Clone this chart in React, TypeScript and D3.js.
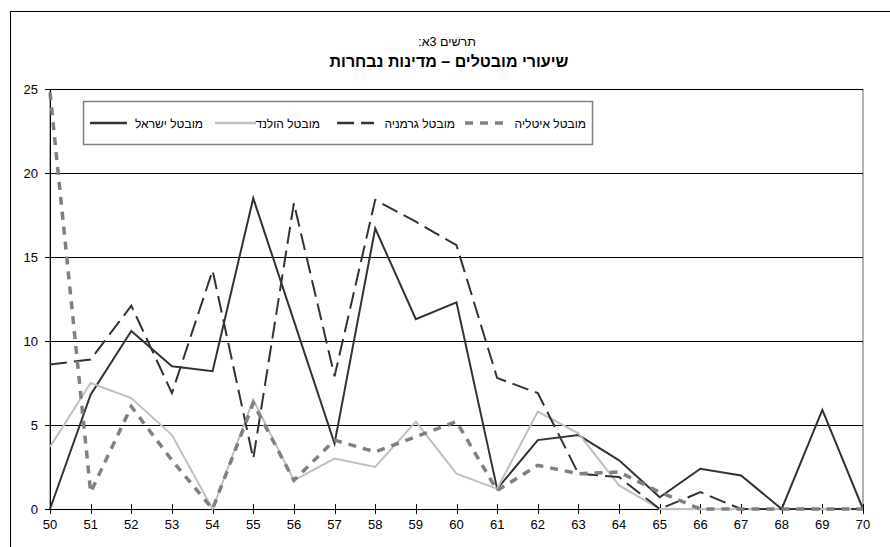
import * as d3 from "d3"

// תרשים 3א – unemployment rates, selected countries
const years = [50, 51, 52, 53, 54, 55, 56, 57, 58, 59, 60, 61, 62, 63, 64, 65, 66, 67, 68, 69, 70]
const israel = [0, 6.8, 10.6, 8.5, 8.2, 18.5, 11.2, 3.9, 16.7, 11.3, 12.3, 1.2, 4.1, 4.4, 2.9, 0.7, 2.4, 2.0, 0, 5.9, 0]
const netherlands = [3.7, 7.5, 6.6, 4.4, 0, 6.5, 1.7, 3.0, 2.5, 5.2, 2.1, 1.2, 5.8, 4.5, 1.4, 0, 0, 0, 0, 0, 0]
const germany = [8.6, 8.9, 12.1, 6.9, 14.2, 3.0, 18.2, 7.9, 18.4, 17.1, 15.7, 7.8, 6.9, 2.1, 1.9, 0, 1.0, 0, 0, 0, 0]
const italy = [24.8, 1.0, 6.1, 2.9, 0, 6.3, 1.7, 4.1, 3.4, 4.3, 5.2, 1.1, 2.6, 2.1, 2.2, 1.0, 0, 0, 0, 0, 0]
const yTicks = [0, 5, 10, 15, 20, 25]

const seriesNames = ["מובטל ישראל", "מובטל הולנד", "מובטל גרמניה", "מובטל איטליה"]
const titleLine1 = "תרשים 3א:"
const titleLine2 = "שיעורי מובטלים – מדינות נבחרות"

const FONT = "'Liberation Sans', Arial, 'DejaVu Sans', sans-serif"

const W = 890
const H = 547
const plot = { left: 50, right: 863, top: 89, bottom: 509 }

export default function App() {
  const x = d3.scaleLinear().domain([50, 70]).range([plot.left, plot.right])
  const y = d3.scaleLinear().domain([0, 25]).range([plot.bottom, plot.top])

  const line = d3
    .line<number>()
    .x((_, i) => x(years[i]))
    .y((d) => y(d))

  // legend: swatch span, text ends at tx
  const series = [
    { name: seriesNames[0], values: israel, color: "#333333", width: 2, dash: "none", sw: [90, 127], tx: 203 },
    { name: seriesNames[1], values: netherlands, color: "#c0c0c0", width: 2, dash: "none", sw: [215, 256], tx: 320 },
    { name: seriesNames[2], values: germany, color: "#333333", width: 2, dash: "17,7", sw: [337, 374], tx: 455 },
    { name: seriesNames[3], values: italy, color: "#808080", width: 3.5, dash: "8,7", sw: [465, 503], tx: 586 },
  ]

  return (
    <svg width={W} height={H} style={{ position: "absolute", left: 0, top: 0, background: "#fff" }} fontFamily={FONT}>
      <rect x={10.5} y={11.5} width={W} height={H} fill="#fff" stroke="#000" strokeWidth={1} />

      <text x={447} y={46} textAnchor="middle" fontSize={12.5} fill="#000" direction="rtl">
        {titleLine1}
      </text>
      <text x={449} y={67} textAnchor="middle" fontSize={16} fontWeight="bold" fill="#000" direction="rtl">
        {titleLine2}
      </text>

      {/* plot border */}
      <rect
        x={plot.left}
        y={plot.top + 0.5}
        width={plot.right - plot.left}
        height={plot.bottom - plot.top}
        fill="none"
        stroke="#808080"
        strokeWidth={1.2}
      />

      {/* gridlines + y axis */}
      {yTicks.map((t) => (
        <g key={t}>
          {t > 0 && <line x1={plot.left} x2={plot.right} y1={y(t) + 0.5} y2={y(t) + 0.5} stroke="#000" strokeWidth={1} />}
          <line x1={plot.left - 5} x2={plot.left} y1={y(t) + 0.5} y2={y(t) + 0.5} stroke="#000" />
          <text x={38} y={y(t) + 5} textAnchor="end" fontSize={13} fill="#000">
            {t}
          </text>
        </g>
      ))}
      <line x1={plot.left + 0.5} x2={plot.left + 0.5} y1={plot.top} y2={plot.bottom} stroke="#000" strokeWidth={1} />

      {/* x axis */}
      <line x1={plot.left} x2={plot.right} y1={plot.bottom + 0.5} y2={plot.bottom + 0.5} stroke="#000" strokeWidth={1} />
      {years.map((yr) => (
        <g key={yr}>
          <line x1={Math.round(x(yr)) + 0.5} x2={Math.round(x(yr)) + 0.5} y1={plot.bottom - 5} y2={plot.bottom + 5} stroke="#000" />
          <text x={x(yr)} y={529} textAnchor="middle" fontSize={13} fill="#000">
            {yr}
          </text>
        </g>
      ))}

      {/* series */}
      {series.map((s) => (
        <path
          key={s.name}
          d={line(s.values) ?? ""}
          fill="none"
          stroke={s.color}
          strokeWidth={s.width}
          strokeDasharray={s.dash}
          strokeLinejoin="miter"
        />
      ))}

      {/* legend */}
      <rect x={83.5} y={101.5} width={509} height={43} fill="#fff" stroke="#808080" strokeWidth={1.5} />
      {series.map((s) => (
        <g key={"lg" + s.name}>
          <line
            x1={s.sw[0]}
            x2={s.sw[1]}
            y1={123}
            y2={123}
            stroke={s.color}
            strokeWidth={s.width === 2 ? 2.5 : 3.5}
            strokeDasharray={s.dash}
          />
          <text x={s.tx} y={127.5} textAnchor="end" fontSize={12} fill="#000">
            {s.name}
          </text>
        </g>
      ))}
    </svg>
  )
}
